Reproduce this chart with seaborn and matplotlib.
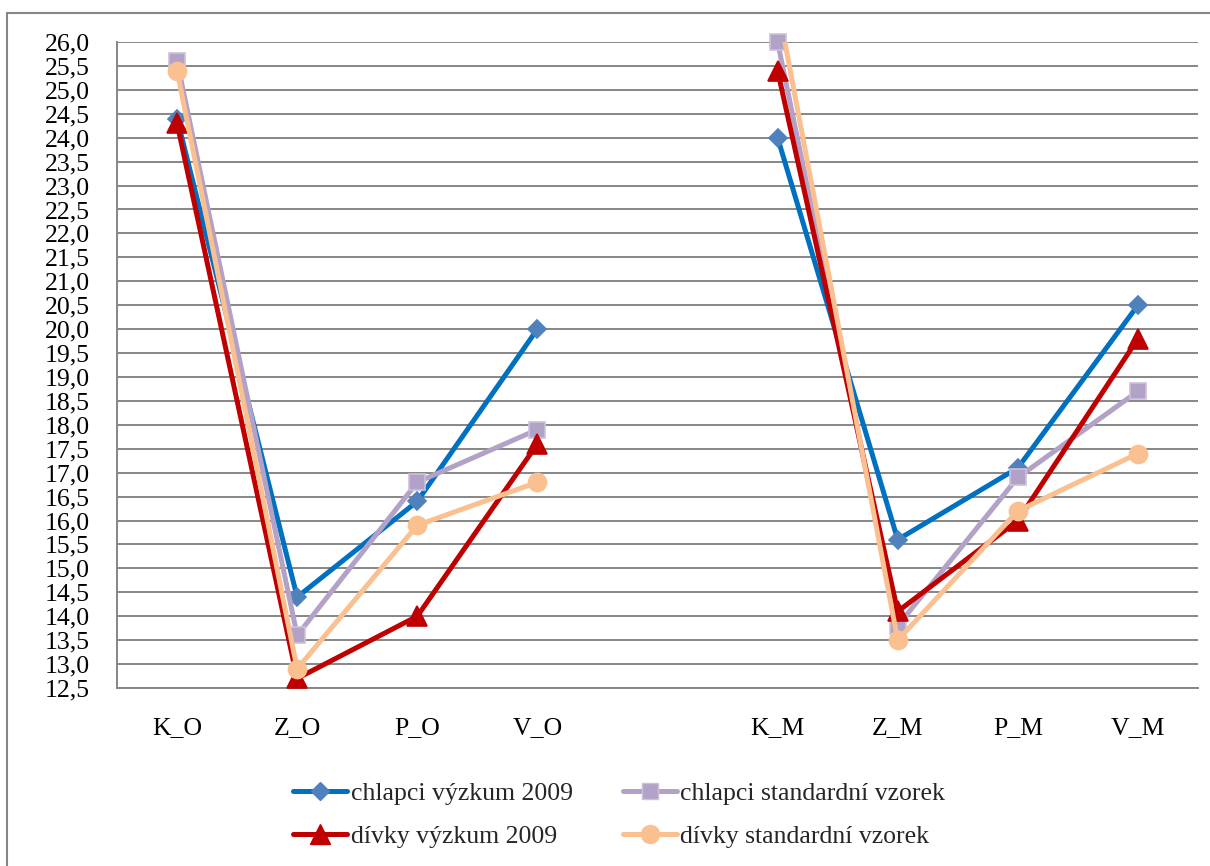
import numpy as np
import pandas as pd
import matplotlib
matplotlib.use("Agg")
import matplotlib.pyplot as plt
from matplotlib.lines import Line2D
from matplotlib.patches import Rectangle
import seaborn as sns

# ---- data ----
categories = ["K_O", "Z_O", "P_O", "V_O", "", "K_M", "Z_M", "P_M", "V_M"]
group_O = ["K_O", "Z_O", "P_O", "V_O"]
group_M = ["K_M", "Z_M", "P_M", "V_M"]

series_names = ["chlapci výzkum 2009", "chlapci standardní vzorek",
                "dívky výzkum 2009", "dívky standardní vzorek"]
chlapci_vyzkum_O = [24.4, 14.4, 16.4, 20.0]
chlapci_vyzkum_M = [24.0, 15.6, 17.1, 20.5]
chlapci_standard_O = [25.6, 13.6, 16.8, 17.9]
chlapci_standard_M = [26.0, 13.8, 16.9, 18.7]
divky_vyzkum_O = [24.3, 12.7, 14.0, 17.6]
divky_vyzkum_M = [25.4, 14.1, 16.0, 19.8]
divky_standard_O = [25.4, 12.9, 15.9, 16.8]
divky_standard_M = [26.8, 13.5, 16.2, 17.4]

y_min, y_max, y_step = 12.5, 26.0, 0.5

# ---- styles ----
styles = {
    "chlapci výzkum 2009": dict(line="#0070C0", mfc="#4F81BD", mec="#4F81BD", marker="D", ms=9.5, lw=3.6),
    "chlapci standardní vzorek": dict(line="#B3A2C7", mfc="#B3A2C7", mec="#CCC1DA", marker="s", ms=12, lw=3.6),
    "dívky výzkum 2009": dict(line="#C00000", mfc="#C00000", mec="#C00000", marker="^", ms=14, lw=3.6),
    "dívky standardní vzorek": dict(line="#FAC090", mfc="#FAC090", mec="#FAC090", marker="o", ms=13, lw=3.6),
}

values = {
    "chlapci výzkum 2009": (chlapci_vyzkum_O, chlapci_vyzkum_M),
    "chlapci standardní vzorek": (chlapci_standard_O, chlapci_standard_M),
    "dívky výzkum 2009": (divky_vyzkum_O, divky_vyzkum_M),
    "dívky standardní vzorek": (divky_standard_O, divky_standard_M),
}

rows = []
for name in series_names:
    vo, vm = values[name]
    for c, v in zip(group_O, vo):
        rows.append((name, "O", categories.index(c), v))
    for c, v in zip(group_M, vm):
        rows.append((name, "M", categories.index(c), v))
df = pd.DataFrame(rows, columns=["series", "group", "pos", "value"])

sns.set_theme(style="white")
plt.rcParams["font.family"] = ["Liberation Serif", "DejaVu Serif"]
FS = 18.5

fig = plt.figure(figsize=(12.1, 8.66), dpi=100)
ax = fig.add_axes([117 / 1210, 1 - 688 / 866, (1198 - 117) / 1210, (688 - 42) / 866])

grid_c = "#868686"
for z, name in enumerate(series_names):
    st = styles[name]
    sub = df[df.series == name]
    for g in ["O", "M"]:
        part = sub[sub.group == g]
        sns.lineplot(data=part, x="pos", y="value", ax=ax, color=st["line"],
                     linewidth=st["lw"], estimator=None, sort=False, legend=False,
                     zorder=3 + z * 2)
    inside = sub[(sub.value >= y_min) & (sub.value <= y_max)]
    ax.plot(inside.pos, inside.value, linestyle="none", marker=st["marker"],
            ms=st["ms"], mfc=st["mfc"], mec=st["mec"], mew=1.2,
            clip_on=False, zorder=4 + z * 2)

ax.set_xlim(-0.5, len(categories) - 0.5)
ax.set_ylim(y_min, y_max)
yt = np.arange(y_min, y_max + 0.001, y_step)
ax.set_yticks(yt)
ax.set_yticklabels([f"{v:.1f}".replace(".", ",") for v in yt], fontsize=FS)
ax.set_xticks(range(len(categories)))
ax.set_xticklabels(categories, fontsize=FS)
ax.set_xticks(np.arange(-0.5, len(categories)), minor=True)
ax.tick_params(axis="x", which="major", length=0, pad=21, colors="black")
ax.tick_params(axis="x", which="minor", length=7.5, width=1.4, color=grid_c, direction="out")
ax.tick_params(axis="y", which="major", length=6.5, width=1.4, color=grid_c, pad=13,
               direction="out", labelcolor="black")
ax.set_xlabel("")
ax.set_ylabel("")
ax.yaxis.grid(True, color=grid_c, linewidth=1.4)
ax.xaxis.grid(False)
ax.set_axisbelow(True)
for s in ["top", "right"]:
    ax.spines[s].set_visible(False)
for s in ["left", "bottom"]:
    ax.spines[s].set_color(grid_c)
    ax.spines[s].set_linewidth(1.4)

handles = []
for name in series_names:
    st = styles[name]
    handles.append(Line2D([0], [0], color=st["line"], lw=st["lw"], marker=st["marker"],
                          ms=st["ms"], mfc=st["mfc"], mec=st["mec"]))
order = [0, 2, 1, 3]
fig.legend([handles[i] for i in order], [series_names[i] for i in order],
           loc="center", bbox_to_anchor=(619 / 1210, 1 - 815 / 866), ncol=2,
           frameon=False, fontsize=FS, handlelength=2.1, handletextpad=0.15,
           columnspacing=1.95, labelspacing=0.75)

fig.add_artist(Rectangle((7 / 1210, -0.05), 1.1, 1 - 13 / 866 + 0.05,
                         transform=fig.transFigure, fill=False,
                         edgecolor=grid_c, linewidth=1.5))

fig.savefig("out.png", dpi=100)
